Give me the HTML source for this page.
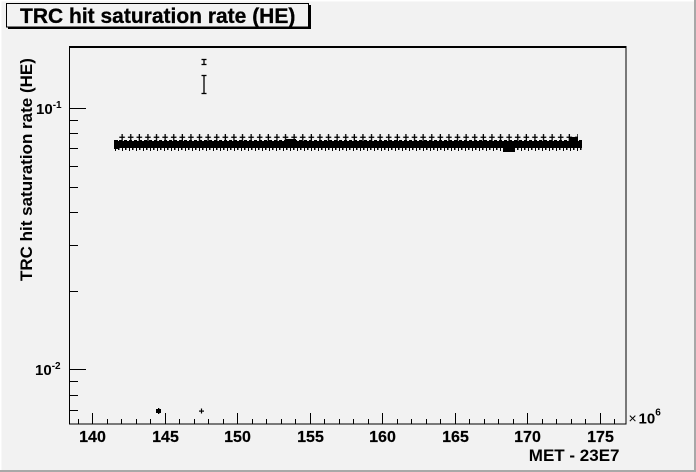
<!DOCTYPE html>
<html>
<head>
<meta charset="utf-8">
<style>
  html,body{margin:0;padding:0;background:#f2f2f2;}
  svg{display:block;}
  text{font-family:"Liberation Sans",Arial,sans-serif;font-weight:bold;fill:#000;}
</style>
</head>
<body>
<svg width="696" height="472" viewBox="0 0 696 472" xmlns="http://www.w3.org/2000/svg">
  <defs>
    <pattern id="crosses" x="118" y="134" width="8.6" height="8" patternUnits="userSpaceOnUse">
      <rect x="3.5" y="0" width="1.3" height="8" fill="#000"/>
      <rect x="1.3" y="2.6" width="5.6" height="1.3" fill="#000"/>
    </pattern>
    <pattern id="jagbot" x="114" y="148" width="7" height="4" patternUnits="userSpaceOnUse">
      <rect x="1" y="0" width="1" height="3" fill="#000"/>
      <rect x="4" y="0" width="1.5" height="2" fill="#000"/>
    </pattern>
    <pattern id="jagtop" x="114" y="139" width="5" height="2" patternUnits="userSpaceOnUse">
      <rect x="0" y="1" width="3" height="1" fill="#000"/>
    </pattern>
  </defs>

  <!-- canvas background and border -->
  <rect x="0" y="0" width="696" height="472" fill="#f2f2f2"/>
  <rect x="0" y="0" width="696" height="1.5" fill="#ffffff"/>
  <rect x="0" y="0" width="1.5" height="472" fill="#ffffff"/>
  <rect x="694" y="0" width="2" height="472" fill="#a8a8a8"/>
  <rect x="0" y="470" width="696" height="2" fill="#a8a8a8"/>

  <!-- title box -->
  <rect x="8" y="5" width="303" height="24" fill="#000"/>
  <rect x="6.5" y="3.5" width="302" height="23.5" fill="#f2f2f2" stroke="#000" stroke-width="1"/>
  <text x="20" y="23" font-size="21" stroke="#000" stroke-width="0.3">TRC hit saturation rate (HE)</text>

  <!-- frame -->
  <rect x="69.5" y="47" width="556.5" height="377" fill="none" stroke="#000" stroke-width="1"/>
  <rect x="69" y="46" width="557.5" height="2" fill="#000"/>

  <!-- y axis ticks -->
  <g stroke="#000" stroke-width="1">
    <line x1="69" y1="108.5" x2="86" y2="108.5"/>
    <line x1="69" y1="369.5" x2="86" y2="369.5"/>
    <line x1="69" y1="120.5" x2="78" y2="120.5"/>
    <line x1="69" y1="133.5" x2="78" y2="133.5"/>
    <line x1="69" y1="148.5" x2="78" y2="148.5"/>
    <line x1="69" y1="166.5" x2="78" y2="166.5"/>
    <line x1="69" y1="187.5" x2="78" y2="187.5"/>
    <line x1="69" y1="212.5" x2="78" y2="212.5"/>
    <line x1="69" y1="245.5" x2="78" y2="245.5"/>
    <line x1="69" y1="291.5" x2="78" y2="291.5"/>
    <line x1="69" y1="381.5" x2="78" y2="381.5"/>
    <line x1="69" y1="395.5" x2="78" y2="395.5"/>
    <line x1="69" y1="410.5" x2="78" y2="410.5"/>
  </g>
  <!-- y labels -->
  <text x="36" y="114" font-size="15">10<tspan dy="-6" font-size="10">-1</tspan></text>
  <text x="35" y="375" font-size="15">10<tspan dy="-6" font-size="10">-2</tspan></text>

  <!-- y title -->
  <text transform="translate(32,281) rotate(-90)" font-size="17">TRC hit saturation rate (HE)</text>

  <!-- x axis ticks -->
  <g stroke="#000" stroke-width="1">
    <line x1="92.5" y1="413" x2="92.5" y2="424"/>
    <line x1="165.5" y1="413" x2="165.5" y2="424"/>
    <line x1="237.5" y1="413" x2="237.5" y2="424"/>
    <line x1="310.5" y1="413" x2="310.5" y2="424"/>
    <line x1="382.5" y1="413" x2="382.5" y2="424"/>
    <line x1="455.5" y1="413" x2="455.5" y2="424"/>
    <line x1="527.5" y1="413" x2="527.5" y2="424"/>
    <line x1="600.5" y1="413" x2="600.5" y2="424"/>
    <line x1="78.5" y1="419" x2="78.5" y2="424"/>
    <line x1="107.5" y1="419" x2="107.5" y2="424"/>
    <line x1="121.5" y1="419" x2="121.5" y2="424"/>
    <line x1="136.5" y1="419" x2="136.5" y2="424"/>
    <line x1="150.5" y1="419" x2="150.5" y2="424"/>
    <line x1="179.5" y1="419" x2="179.5" y2="424"/>
    <line x1="194.5" y1="419" x2="194.5" y2="424"/>
    <line x1="208.5" y1="419" x2="208.5" y2="424"/>
    <line x1="223.5" y1="419" x2="223.5" y2="424"/>
    <line x1="252.5" y1="419" x2="252.5" y2="424"/>
    <line x1="266.5" y1="419" x2="266.5" y2="424"/>
    <line x1="281.5" y1="419" x2="281.5" y2="424"/>
    <line x1="295.5" y1="419" x2="295.5" y2="424"/>
    <line x1="324.5" y1="419" x2="324.5" y2="424"/>
    <line x1="339.5" y1="419" x2="339.5" y2="424"/>
    <line x1="353.5" y1="419" x2="353.5" y2="424"/>
    <line x1="368.5" y1="419" x2="368.5" y2="424"/>
    <line x1="397.5" y1="419" x2="397.5" y2="424"/>
    <line x1="411.5" y1="419" x2="411.5" y2="424"/>
    <line x1="426.5" y1="419" x2="426.5" y2="424"/>
    <line x1="440.5" y1="419" x2="440.5" y2="424"/>
    <line x1="469.5" y1="419" x2="469.5" y2="424"/>
    <line x1="484.5" y1="419" x2="484.5" y2="424"/>
    <line x1="498.5" y1="419" x2="498.5" y2="424"/>
    <line x1="513.5" y1="419" x2="513.5" y2="424"/>
    <line x1="542.5" y1="419" x2="542.5" y2="424"/>
    <line x1="556.5" y1="419" x2="556.5" y2="424"/>
    <line x1="571.5" y1="419" x2="571.5" y2="424"/>
    <line x1="585.5" y1="419" x2="585.5" y2="424"/>
    <line x1="614.5" y1="419" x2="614.5" y2="424"/>
  </g>
  <!-- x labels -->
  <g font-size="16" text-anchor="middle" stroke="#000" stroke-width="0.2">
    <text x="92.5" y="442">140</text>
    <text x="165.5" y="442">145</text>
    <text x="237.5" y="442">150</text>
    <text x="310.5" y="442">155</text>
    <text x="382.5" y="442">160</text>
    <text x="455.5" y="442">165</text>
    <text x="527.5" y="442">170</text>
    <text x="600.5" y="442">175</text>
  </g>
  <!-- x10^6 -->
  <text x="628.5" y="423" font-size="14" style="font-weight:normal">×</text>
  <text x="638.5" y="423.5" font-size="15">10<tspan dy="-8" font-size="10">6</tspan></text>
  <!-- x title -->
  <text x="619.5" y="461" font-size="17" text-anchor="end">MET - 23E7</text>

  <!-- data band -->
  <rect x="114" y="141" width="468" height="7" fill="#000"/>
  <rect x="114" y="139" width="468" height="2" fill="url(#jagtop)"/>
  <rect x="114" y="148" width="468" height="3" fill="url(#jagbot)"/>
  <rect x="118" y="134" width="460" height="8" fill="url(#crosses)"/>
  <rect x="503" y="147" width="12" height="5" fill="#000"/>
  <rect x="286" y="139" width="10" height="3" fill="#000"/>
  <rect x="570" y="137" width="8" height="4" fill="#000"/>
  <rect x="114" y="140" width="4" height="9" fill="#000"/>

  <!-- error bars at top -->
  <g stroke="#000" stroke-width="1.3">
    <line x1="204" y1="59" x2="204" y2="65"/>
    <line x1="201.5" y1="59.5" x2="206.5" y2="59.5"/>
    <line x1="201.5" y1="64.5" x2="206.5" y2="64.5"/>
    <line x1="204" y1="75" x2="204" y2="94"/>
    <line x1="201.5" y1="75.5" x2="206.5" y2="75.5"/>
    <line x1="201.5" y1="93.5" x2="206.5" y2="93.5"/>
  </g>

  <!-- low points -->
  <rect x="156" y="409" width="5" height="4" fill="#000"/>
  <rect x="158" y="408" width="1.3" height="6" fill="#000"/>
  <rect x="199" y="410.5" width="5" height="1.2" fill="#000"/>
  <rect x="200.9" y="408.5" width="1.2" height="5" fill="#000"/>
</svg>
</body>
</html>
